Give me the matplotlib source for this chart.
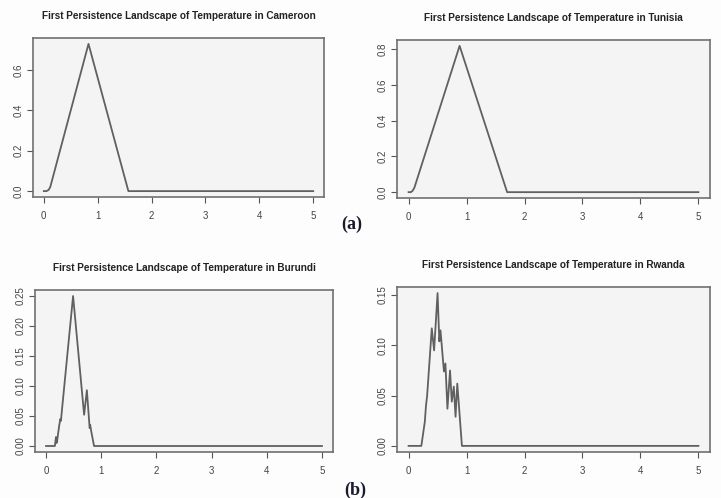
import numpy as np
import matplotlib
matplotlib.use("Agg")
import matplotlib.pyplot as plt

plt.rcParams["font.family"] = ["Liberation Sans", "DejaVu Sans"]

# landscape values
cameroon_x = [0.0, 0.05, 0.09, 0.12, 0.83, 1.57, 5.0]
cameroon_y = [0.0, 0.0, 0.006, 0.02, 0.73, 0.0, 0.0]

tunisia_x = [0.0, 0.04, 0.07, 0.10, 0.88, 1.70, 5.0]
tunisia_y = [0.0, 0.0, 0.008, 0.025, 0.82, 0.0, 0.0]

burundi_x = [0.0, 0.16, 0.18, 0.19, 0.20, 0.24, 0.26, 0.27, 0.28,
             0.49, 0.69, 0.74, 0.79, 0.80, 0.82, 0.87, 0.89, 5.0]
burundi_y = [0.0, 0.0, 0.015, 0.005, 0.008, 0.035, 0.045, 0.042, 0.052,
             0.25, 0.052, 0.093, 0.03, 0.035, 0.024, 0.0, 0.0, 0.0]

rwanda_x = [0.0, 0.22, 0.28, 0.30, 0.32, 0.40, 0.44, 0.50, 0.53, 0.55,
            0.61, 0.635, 0.67, 0.715, 0.745, 0.78, 0.81, 0.84, 0.92, 5.0]
rwanda_y = [0.0, 0.0, 0.024, 0.04, 0.05, 0.117, 0.095, 0.152, 0.104, 0.115,
            0.074, 0.082, 0.037, 0.075, 0.044, 0.059, 0.029, 0.062, 0.0, 0.0]

panels = [
    ("Cameroon", cameroon_x, cameroon_y, [0.0, 0.2, 0.4, 0.6], "%.1f",
     [33, 38, 324, 197]),
    ("Tunisia", tunisia_x, tunisia_y, [0.0, 0.2, 0.4, 0.6, 0.8], "%.1f",
     [397, 40, 710, 198]),
    ("Burundi", burundi_x, burundi_y, [0.0, 0.05, 0.10, 0.15, 0.20, 0.25], "%.2f",
     [35, 290, 333, 452]),
    ("Rwanda", rwanda_x, rwanda_y, [0.0, 0.05, 0.10, 0.15], "%.2f",
     [397, 287, 710, 452]),
]

W, H = 721, 498
fig = plt.figure(figsize=(W / 100, H / 100), dpi=100)
fig.patch.set_facecolor("#fdfdfd")

for name, xs, ys, yticks, fmt, box in panels:
    l, t, r, b = box
    ax = fig.add_axes([l / W, 1 - b / H, (r - l) / W, (b - t) / H])
    ax.set_facecolor("#f4f4f4")
    ax.plot(xs, ys, color="#606060", lw=1.3)
    ymax = max(ys)
    ax.set_xlim(-0.2, 5.2)
    ax.set_ylim(-0.04 * ymax, 1.04 * ymax)
    ax.set_xticks([0, 1, 2, 3, 4, 5])
    ax.set_yticks(yticks)
    ax.set_yticklabels([fmt % v for v in yticks], rotation=90, va="center")
    ax.tick_params(direction="out", length=4, width=0.8, colors="#555555",
                   labelsize=7, labelcolor="#444444")
    ax.tick_params(axis="x", pad=6)
    ax.tick_params(axis="y", pad=3)
    for sp in ax.spines.values():
        sp.set_color("#707070")
        sp.set_linewidth(1.2)
    ax.set_title("First Persistence Landscape of Temperature in " + name,
                 fontsize=7.2, fontweight="bold", color="#222222", pad=14)

fig.text(352 / W, 1 - 224 / H, "(a)", ha="center", va="center",
         fontsize=13, fontweight="bold",
         family=["Liberation Serif", "DejaVu Serif"], color="#1a1a2e")
fig.text(355 / W, 1 - 490 / H, "(b)", ha="center", va="center",
         fontsize=13, fontweight="bold",
         family=["Liberation Serif", "DejaVu Serif"], color="#1a1a2e")

fig.savefig("out.png", dpi=100, facecolor=fig.get_facecolor())
